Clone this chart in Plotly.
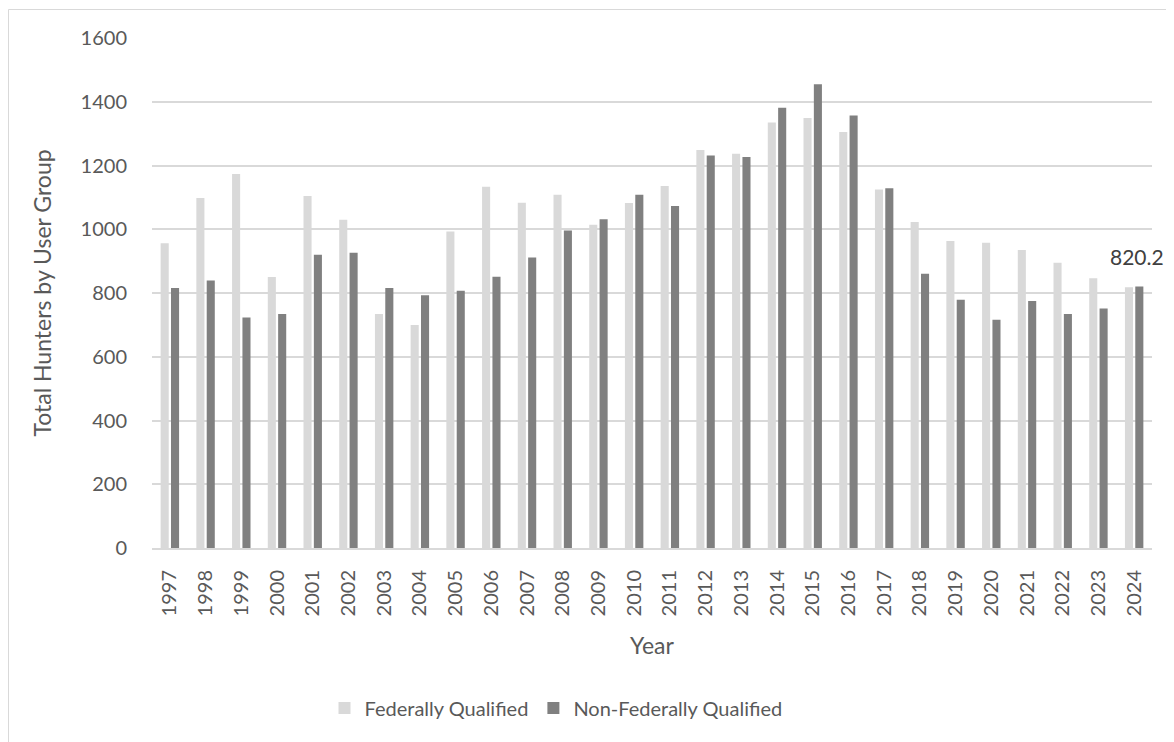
import plotly.graph_objects as go

years = [str(y) for y in range(1997, 2025)]
federally_qualified = [956, 1098, 1173, 850, 1104, 1030, 734, 700, 993, 1133,
                       1083, 1108, 1014, 1082, 1136, 1249, 1237, 1335, 1349, 1305,
                       1125, 1023, 963, 958, 935, 895, 846, 818]
non_federally_qualified = [816, 839, 723, 734, 920, 926, 816, 793, 807, 851,
                           911, 996, 1031, 1108, 1073, 1231, 1227, 1381, 1455, 1357,
                           1129, 860, 779, 716, 775, 734, 751, 820.2]
y_ticks = [0, 200, 400, 600, 800, 1000, 1200, 1400, 1600]

FONT = "Lato"
TXT = "#595959"

# page has an 8px body margin; figure is sized / offset to compensate
OFF = 8
L, R, T, B = 144, 22, 30, 194
W, H = 1166, 734
pw, ph = W - L - R, H - T - B

def px_x(p):
    return (p - OFF - L) / pw

def px_y(p):
    return (H - B - (p - OFF)) / ph

fig = go.Figure()
fig.add_trace(go.Bar(x=years, y=federally_qualified, name="Federally Qualified",
                     marker=dict(color="#d9d9d9", line=dict(width=0))))
fig.add_trace(go.Bar(x=years, y=non_federally_qualified, name="Non-Federally Qualified",
                     marker=dict(color="#808080", line=dict(width=0))))

# category axis: annotation x is the category's serial index
fig.add_annotation(x=len(years) - 1, y=non_federally_qualified[-1],
                   text=f"{non_federally_qualified[-1]}", showarrow=False,
                   xanchor="center", yanchor="bottom", xshift=3, yshift=16,
                   font=dict(family=FONT, size=21, color="#404040"))

fig.update_layout(
    width=W, height=H,
    margin=dict(l=L, r=R, t=T, b=B, pad=0),
    paper_bgcolor="white", plot_bgcolor="white",
    barmode="group", bargap=0.42, bargroupgap=0.22,
    font=dict(family=FONT, size=20, color=TXT),
    showlegend=True,
    legend=dict(orientation="h", x=px_x(556), xanchor="center",
                y=px_y(708), yanchor="middle",
                font=dict(family=FONT, size=20, color=TXT),
                itemwidth=30, traceorder="normal"),
    xaxis=dict(type="category", categoryorder="array", categoryarray=years,
               range=[-0.5, len(years) - 0.5],
               tickangle=-90, showgrid=False,
               showline=True, linecolor="#d9d9d9", linewidth=2,
               ticks="outside", ticklen=12, tickcolor="rgba(0,0,0,0)",
               tickfont=dict(family=FONT, size=20, color=TXT),
               title=dict(text="Year", standoff=22,
                          font=dict(family=FONT, size=23, color=TXT))),
    yaxis=dict(range=[0, 1600], tickvals=y_ticks, showgrid=True,
               gridcolor="#d9d9d9", gridwidth=2, zeroline=False,
               ticks="outside", ticklen=20, tickcolor="rgba(0,0,0,0)",
               tickfont=dict(family=FONT, size=20, color=TXT),
               title=dict(text="Total Hunters by User Group", standoff=22,
                          font=dict(family=FONT, size=23, color=TXT))),
    shapes=[dict(type="rect", xref="paper", yref="paper",
                 x0=px_x(8.5), x1=px_x(1190), y0=px_y(760), y1=px_y(9.5),
                 line=dict(color="#d9d9d9", width=1), fillcolor="rgba(0,0,0,0)",
                 layer="below")],
)

fig.write_html("out.html")
